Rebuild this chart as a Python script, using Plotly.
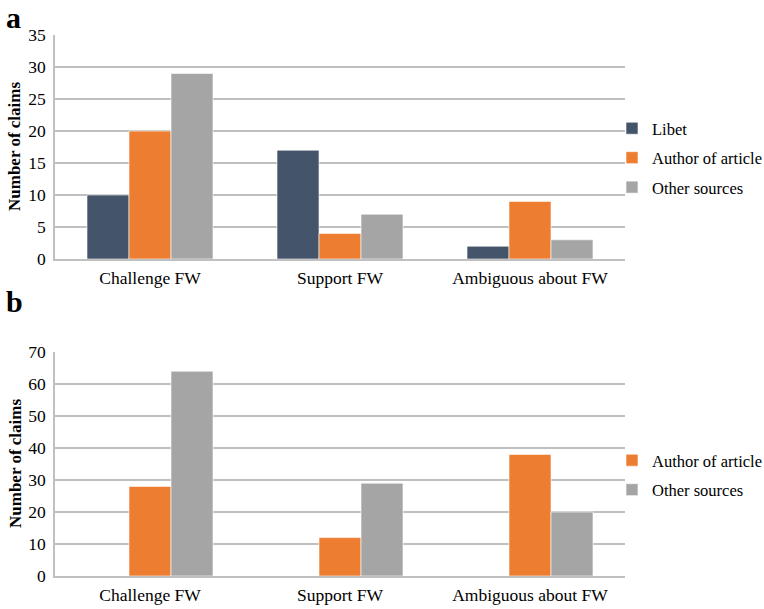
import plotly.graph_objects as go
from plotly.subplots import make_subplots

categories = ["Challenge FW", "Support FW", "Ambiguous about FW"]
a_libet = [10, 17, 2]
a_author = [20, 4, 9]
a_other = [29, 7, 3]
b_libet = [None, None, None]
b_author = [28, 12, 38]
b_other = [64, 29, 20]

c_libet = "#44546a"
c_author = "#ed7d31"
c_other = "#a5a5a5"
font = "Liberation Serif"

W, H = 764, 609
L, R, T, B = 55, 139, 35, 33
ph = H - T - B
pa = 224 / ph

fig = make_subplots(rows=2, cols=1, vertical_spacing=0.0)

def add(vals, name, color, row, legend, show):
    fig.add_trace(go.Bar(x=categories, y=vals, name=name, marker_color=color,
                         marker_line=dict(color="white", width=0.6),
                         legend=legend, showlegend=show, legendgroup=name + legend),
                  row=row, col=1)

add(a_libet, "Libet", c_libet, 1, "legend", True)
add(a_author, "Author of article", c_author, 1, "legend", True)
add(a_other, "Other sources", c_other, 1, "legend", True)
add(b_libet, "Libet", c_libet, 2, "legend2", False)
add(b_author, "Author of article", c_author, 2, "legend2", True)
add(b_other, "Other sources", c_other, 2, "legend2", True)

grid = "#c0c0c0"
common_y = dict(showgrid=True, gridcolor=grid, gridwidth=1.5, showline=True, linecolor=grid,
                linewidth=1.5, zeroline=False, ticks="", ticklabelstandoff=4, automargin=False,
                tickfont=dict(family=font, size=17.5, color="black"))
common_x = dict(showline=True, linecolor=grid, linewidth=1.5, ticks="", ticklabelstandoff=2,
                automargin=False, tickfont=dict(family=font, size=17.5, color="black"))

fig.update_yaxes(range=[0, 35], dtick=5, domain=[1 - pa, 1], row=1, col=1, **common_y)
fig.update_yaxes(range=[0, 70], dtick=10, domain=[0, pa], row=2, col=1, **common_y)
fig.update_xaxes(row=1, col=1, **common_x)
fig.update_xaxes(row=2, col=1, **common_x)

def py(px):
    return 1 - (px - T) / ph

def pxx(px):
    return (px - L) / (W - L - R)

leg_common = dict(x=pxx(612), xanchor="left", yanchor="middle",
                  font=dict(family=font, size=16.5, color="black"),
                  bgcolor="rgba(0,0,0,0)", traceorder="grouped", tracegroupgap=5,
                  itemwidth=30)

fig.update_layout(
    width=W, height=H, margin=dict(l=L, r=R, t=T, b=B, autoexpand=False),
    plot_bgcolor="white", paper_bgcolor="white",
    barmode="group", bargap=0.337, bargroupgap=0,
    legend=dict(y=py(158), **leg_common),
    legend2=dict(y=py(475), **leg_common),
    annotations=[
        dict(text="<b>a</b>", x=pxx(4), y=py(17), xref="paper", yref="paper",
             xanchor="left", yanchor="middle", showarrow=False,
             font=dict(family=font, size=30, color="black")),
        dict(text="<b>b</b>", x=pxx(4), y=py(301), xref="paper", yref="paper",
             xanchor="left", yanchor="middle", showarrow=False,
             font=dict(family=font, size=30, color="black")),
        dict(text="<b>Number of claims</b>", x=pxx(15), y=py(147), xref="paper", yref="paper",
             xanchor="center", yanchor="middle", textangle=-90, showarrow=False,
             font=dict(family=font, size=17, color="black")),
        dict(text="<b>Number of claims</b>", x=pxx(15), y=py(464), xref="paper", yref="paper",
             xanchor="center", yanchor="middle", textangle=-90, showarrow=False,
             font=dict(family=font, size=17, color="black")),
    ],
)

fig.write_html("out.html", config={"displayModeBar": False},
               post_script="document.body.style.margin='0';document.body.style.overflow='hidden';")
